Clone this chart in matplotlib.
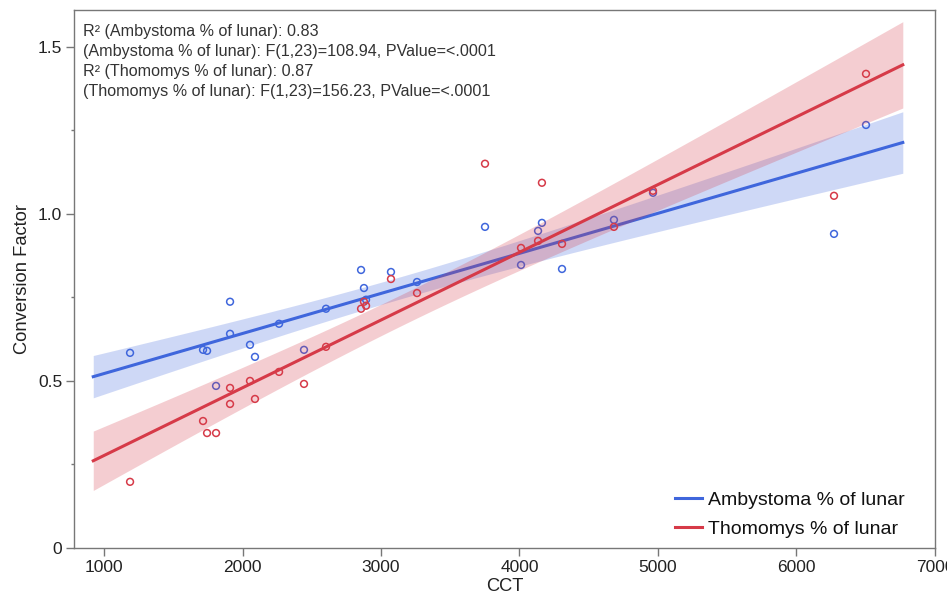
import numpy as np
import matplotlib
matplotlib.use("Agg")
import matplotlib.pyplot as plt
from matplotlib.ticker import MultipleLocator

plt.rcParams['font.family'] = ['Liberation Sans', 'DejaVu Sans']

# CCT values shared by both series
cct = [1188, 1715, 1744, 1809, 1910, 1910, 2054, 2090, 2264, 2444, 2603,
       2856, 2877, 2892, 3072, 3260, 3751, 4011, 4134, 4162, 4307, 4682,
       4964, 6271, 6502]

ambystoma = [0.584, 0.593, 0.590, 0.485, 0.737, 0.641, 0.608, 0.572, 0.671,
             0.593, 0.716, 0.832, 0.778, 0.743, 0.826, 0.796, 0.961, 0.847,
             0.949, 0.973, 0.835, 0.982, 1.063, 0.940, 1.266]

thomomys = [0.198, 0.380, 0.344, 0.344, 0.479, 0.431, 0.500, 0.446, 0.527,
            0.491, 0.602, 0.716, 0.737, 0.725, 0.805, 0.763, 1.150, 0.898,
            0.919, 1.093, 0.910, 0.961, 1.069, 1.054, 1.419]

series_names = ['Ambystoma % of lunar', 'Thomomys % of lunar']
series_colors = ['#3f66dc', '#d63a48']
fit_stats = [('0.83', '108.94'), ('0.87', '156.23')]

x_ticks = [1000, 2000, 3000, 4000, 5000, 6000, 7000]
y_ticks = [0, 0.5, 1.0, 1.5]
y_tick_labels = ['0', '0.5', '1.0', '1.5']

T975_23 = 2.0687  # t quantile, 23 dof


def fit_band(x, y, xs):
    x = np.asarray(x, float)
    y = np.asarray(y, float)
    n = len(x)
    b, a = np.polyfit(x, y, 1)
    resid = y - (a + b * x)
    s = np.sqrt(np.sum(resid ** 2) / (n - 2))
    sxx = np.sum((x - x.mean()) ** 2)
    yhat = a + b * xs
    se = s * np.sqrt(1.0 / n + (xs - x.mean()) ** 2 / sxx)
    return yhat, yhat - T975_23 * se, yhat + T975_23 * se


fig = plt.figure(figsize=(9.47, 6.0), dpi=100)
ax = fig.add_axes([0.0781, 0.0867, 0.9092, 0.8966])

xmin, xmax = min(cct), max(cct)
pad = 0.05 * (xmax - xmin)
xs = np.linspace(xmin - pad, xmax + pad, 200)

z = 1
for vals, name, col in zip([ambystoma, thomomys], series_names, series_colors):
    yhat, lo, hi = fit_band(cct, vals, xs)
    ax.fill_between(xs, lo, hi, color=col, alpha=0.25, linewidth=0, zorder=z)
    ax.scatter(cct, vals, s=24, facecolors='none', edgecolors=col,
               linewidths=1.1, zorder=z + 1)
    ax.plot(xs, yhat, color=col, lw=2.2, zorder=z + 2, label=name)
    z += 3

ax.set_xlim(783, 7000)
ax.set_ylim(0, 1.61)
ax.set_xticks(x_ticks)
ax.set_xticklabels([str(t) for t in x_ticks])
ax.set_yticks(y_ticks)
ax.set_yticklabels(y_tick_labels)
ax.yaxis.set_minor_locator(MultipleLocator(0.25))

for sp in ax.spines.values():
    sp.set_color('#777777')
    sp.set_linewidth(1.0)
ax.tick_params(axis='both', which='major', direction='out', length=5.5,
               width=1, color='#777777', labelsize=12.5, labelcolor='#222222',
               pad=3)
ax.tick_params(axis='y', which='minor', direction='out', length=2.5,
               width=1, color='#777777')

ax.set_xlabel('CCT', fontsize=13.2, color='#222222', labelpad=2)
ax.set_ylabel('Conversion Factor', fontsize=13.2, color='#222222', labelpad=5)

lines = []
for name, (r2, f) in zip(series_names, fit_stats):
    lines.append(f'R² ({name}): {r2}')
    lines.append(f'({name}): F(1,23)={f}, PValue=<.0001')
ax.text(0.01, 0.974, '\n'.join(lines), transform=ax.transAxes,
        ha='left', va='top', fontsize=11.65, color='#333333', linespacing=1.41)

leg = ax.legend(loc='lower right', frameon=False, fontsize=14,
                handlelength=1.4, handletextpad=0.3, labelspacing=0.6,
                bbox_to_anchor=(0.985, -0.014))
for t in leg.get_texts():
    t.set_color('#111111')

fig.savefig('out.png', dpi=100)
